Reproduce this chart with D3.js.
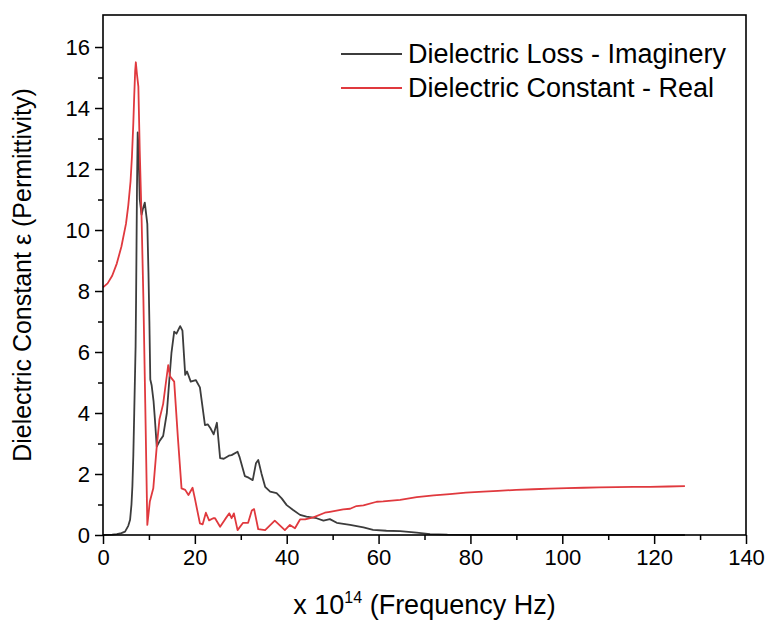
<!DOCTYPE html>
<html>
<head>
<meta charset="utf-8">
<script src="https://cdn.jsdelivr.net/npm/d3@7/dist/d3.min.js"></script>
<style>
  html, body { margin: 0; padding: 0; background: #fff; }
  svg { display: block; font-family: "Liberation Sans", Arial, sans-serif; }
</style>
</head>
<body>
<svg id="chart" width="768" height="622"></svg>
<script>
// ---- Data ----
const realFreq = [0,1,2,3,4,5,5.5,6,6.3,6.6,6.8,7.0,7.15,7.4,7.7,8.0,8.4,8.8,9.2,9.65,10.2,10.95,11.7,12.3,13.1,13.7,14.2,14.6,15.5,16.3,17.1,17.9,18.6,19.5,20.0,21.1,21.7,22.4,23.1,24.0,24.4,25.5,26.6,27.5,28.0,28.5,29.3,30.5,31.6,32.4,32.9,33.8,35.3,37.4,39.6,40.7,41.8,42.9,44.0,45.8,48.3,49.4,52.3,53.8,55.2,56.7,59.6,61.0,64.7,68.3,72,75.5,79,82.8,86,90,93.7,97.3,101,104.6,108,111.8,115.5,119.1,123,126.7];
const realValues = [8.12,8.25,8.5,8.9,9.45,10.2,10.8,11.6,12.4,13.5,14.4,15.2,15.5,15.1,14.7,12.6,10.4,7.7,4.3,0.33,1.1,1.53,2.9,3.8,4.3,5.0,5.57,5.2,5.03,3.2,1.53,1.48,1.31,1.55,1.2,0.38,0.35,0.73,0.48,0.55,0.55,0.27,0.52,0.71,0.55,0.71,0.16,0.40,0.40,0.80,0.85,0.19,0.16,0.47,0.16,0.33,0.22,0.51,0.51,0.58,0.73,0.76,0.84,0.86,0.95,0.97,1.09,1.10,1.15,1.24,1.30,1.34,1.39,1.42,1.45,1.48,1.50,1.52,1.54,1.55,1.56,1.57,1.58,1.58,1.59,1.60];

const lossFreq = [0,1,2,3,4,4.8,5.5,5.9,6.2,6.4,6.6,6.8,7.1,7.2,7.3,7.4,7.55,7.75,8.0,8.4,8.7,9.1,9.65,9.9,10.1,10.3,10.6,11.0,11.3,11.7,12.4,13.1,13.9,14.5,14.9,15.5,16.0,16.8,17.3,17.9,18.3,19.1,20.2,21.1,22.2,22.8,23.4,24.1,24.8,25.5,26.3,27.4,28.0,29.3,29.7,30.9,31.7,32.6,33.3,33.8,34.5,35.3,36.4,37.8,38.9,40.0,41.4,42.9,44.3,46.5,48.0,49.4,50.9,53.8,56.7,58.8,61.7,64.7,68.3,71.2,75,80,90,100,110,120,126.7];
const lossValues = [0,0.005,0.01,0.03,0.06,0.11,0.3,0.5,1.0,1.6,2.6,4.0,6.2,7.7,9.5,11.4,13.2,12.6,11.0,10.5,10.7,10.9,10.2,8.6,7.0,5.1,4.9,4.4,3.8,2.9,3.1,3.25,4.0,5.2,5.96,6.67,6.6,6.85,6.7,5.25,5.36,5.03,5.08,4.84,3.6,3.63,3.5,3.3,3.68,2.52,2.5,2.6,2.62,2.73,2.57,1.93,1.88,1.80,2.35,2.46,2.02,1.58,1.42,1.37,1.2,0.98,0.82,0.66,0.60,0.55,0.47,0.52,0.40,0.33,0.25,0.17,0.14,0.13,0.08,0.03,0.01,0.005,0.002,0.001,0.001,0,0];

const xTicks = [0,20,40,60,80,100,120,140];
const yTicks = [0,2,4,6,8,10,12,14,16];
const seriesNames = ["Dielectric Loss - Imaginery", "Dielectric Constant - Real"];
const seriesColors = ["#3c3c3c", "#e0393e"];

// ---- Layout ----
const W = 768, H = 622;
const margin = {left: 103, right: 22, top: 15, bottom: 87};
const iw = W - margin.left - margin.right;
const ih = H - margin.top - margin.bottom;

const svg = d3.select("#chart");
const g = svg.append("g").attr("transform", `translate(${margin.left},${margin.top})`);

const x = d3.scaleLinear().domain([0, 140]).range([0, iw]);
const y = d3.scaleLinear().domain([0, 17.05]).range([ih, 0]);

// Lines
const line = d3.line().x(d => x(d[0])).y(d => y(d[1]));
const lossData = lossFreq.map((f, i) => [f, lossValues[i]]);
const realData = realFreq.map((f, i) => [f, realValues[i]]);

g.append("path").datum(lossData).attr("d", line)
  .attr("fill", "none").attr("stroke", seriesColors[0]).attr("stroke-width", 1.8)
  .attr("stroke-linejoin", "round");
g.append("path").datum(realData).attr("d", line)
  .attr("fill", "none").attr("stroke", seriesColors[1]).attr("stroke-width", 1.8)
  .attr("stroke-linejoin", "round");

// Frame
g.append("rect").attr("x", 0).attr("y", 0).attr("width", iw).attr("height", ih)
  .attr("fill", "none").attr("stroke", "#000").attr("stroke-width", 1.6);

// Axes
const xAxis = d3.axisBottom(x).tickValues(xTicks).tickSize(9).tickPadding(5).tickFormat(d3.format("d"));
const yAxis = d3.axisLeft(y).tickValues(yTicks).tickSize(8).tickPadding(5).tickFormat(d3.format("d"));
const xMinor = d3.axisBottom(x).tickValues(d3.range(10, 140, 20)).tickSize(5).tickFormat("");
const yMinor = d3.axisLeft(y).tickValues(d3.range(1, 17, 2)).tickSize(5).tickFormat("");

function styleAxis(sel, fs) {
  sel.select(".domain").remove();
  sel.selectAll("line").attr("stroke", "#000").attr("stroke-width", 1.5);
  sel.selectAll("text").attr("fill", "#000").style("font-size", fs + "px")
    .style("font-family", "'Liberation Sans', Arial, sans-serif");
}
g.append("g").attr("transform", `translate(0,${ih})`).call(xAxis).call(s => styleAxis(s, 22));
g.append("g").attr("transform", `translate(0,${ih})`).call(xMinor).call(s => styleAxis(s, 22));
g.append("g").call(yAxis).call(s => styleAxis(s, 22));
g.append("g").call(yMinor).call(s => styleAxis(s, 22));

// Axis titles
const xt = svg.append("text").attr("x", margin.left + iw / 2).attr("y", 614)
  .attr("text-anchor", "middle").style("font-size", "27px").attr("fill", "#000");
xt.append("tspan").text("x 10");
xt.append("tspan").text("14").attr("dy", -11).style("font-size", "16px");
xt.append("tspan").text(" (Frequency Hz)").attr("dy", 11);

svg.append("text").attr("transform", `translate(31,${margin.top + ih / 2}) rotate(-90)`)
  .attr("text-anchor", "middle").style("font-size", "25px").attr("fill", "#000")
  .text("Dielectric Constant ε (Permittivity)");

// Legend
const legend = svg.append("g");
const legendY = [54, 88];
seriesNames.forEach((name, i) => {
  legend.append("line").attr("x1", 341).attr("x2", 402)
    .attr("y1", legendY[i]).attr("y2", legendY[i])
    .attr("stroke", seriesColors[i]).attr("stroke-width", 1.8);
  legend.append("text").attr("x", 408).attr("y", legendY[i]).attr("dy", "0.35em")
    .style("font-size", "27px").attr("fill", "#000").text(name);
});
</script>
</body>
</html>
